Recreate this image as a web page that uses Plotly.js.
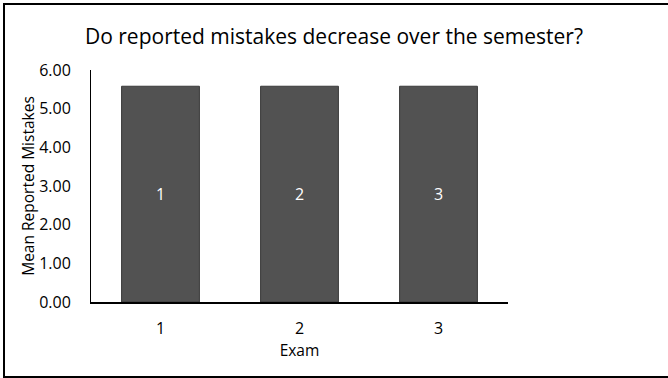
<!DOCTYPE html>
<html>
<head>
<meta charset="utf-8">
<script src="https://cdn.plot.ly/plotly-3.0.1.min.js"></script>
<style>
html, body { margin: 0; padding: 0; background: #fff; overflow: hidden; }
#wrap { position: relative; width: 668px; height: 378px; overflow: hidden; }
#chart { position: absolute; left: 0; top: 0; width: 668px; height: 378px; }
#frame { position: absolute; left: 3px; top: 3px; width: 700px; height: 375px; box-sizing: border-box; border: 2.5px solid #000; pointer-events: none; }
</style>
</head>
<body>
<div id="wrap">
<div id="chart"></div>
<div id="frame"></div>
</div>
<script>
var exams = ['1', '2', '3'];
var meanMistakes = [5.58, 5.58, 5.58];
var barLabels = ['1', '2', '3'];
var yTickVals = [0, 1, 2, 3, 4, 5, 6];

var FONT = 'Open Sans, Liberation Sans, sans-serif';

var trace = {
  type: 'bar',
  x: exams,
  y: meanMistakes,
  text: barLabels,
  textposition: 'inside',
  insidetextanchor: 'middle',
  textangle: 0,
  textfont: { family: FONT, size: 16, color: '#ffffff' },
  marker: { color: '#525252', line: { color: '#3a3a3a', width: 1 } },
  hoverinfo: 'none'
};

var layout = {
  width: 668,
  height: 378,
  margin: { l: 91, r: 160, t: 70, b: 76, pad: 0 },
  paper_bgcolor: '#ffffff',
  plot_bgcolor: '#ffffff',
  font: { family: FONT, size: 14, color: '#000000' },
  showlegend: false,
  bargap: 0.44,
  title: {
    text: 'Do reported mistakes decrease over the semester?',
    font: { family: FONT, size: 21, color: '#000000' },
    xref: 'container', yref: 'container',
    x: 0.5, xanchor: 'center',
    y: 1 - 37 / 378, yanchor: 'middle'
  },
  xaxis: {
    type: 'category',
    showline: true, linecolor: '#000000', linewidth: 1.5,
    ticks: '', showgrid: false, zeroline: false,
    tickfont: { family: FONT, size: 16, color: '#000000' },
    ticklabelstandoff: 11,
    title: { text: 'Exam', font: { family: FONT, size: 15.5, color: '#000000' }, standoff: 7 }
  },
  yaxis: {
    range: [0, 6],
    tickvals: yTickVals,
    tickformat: '.2f',
    showline: true, linecolor: '#000000', linewidth: 1,
    ticks: '', showgrid: false, zeroline: false,
    tickfont: { family: FONT, size: 16, color: '#000000' },
    ticklabelstandoff: 16,
    title: { text: 'Mean Reported Mistakes', font: { family: FONT, size: 15.5, color: '#000000' }, standoff: 0 }
  }
};

Plotly.newPlot('chart', [trace], layout, { staticPlot: true, displayModeBar: false });
</script>
</body>
</html>
